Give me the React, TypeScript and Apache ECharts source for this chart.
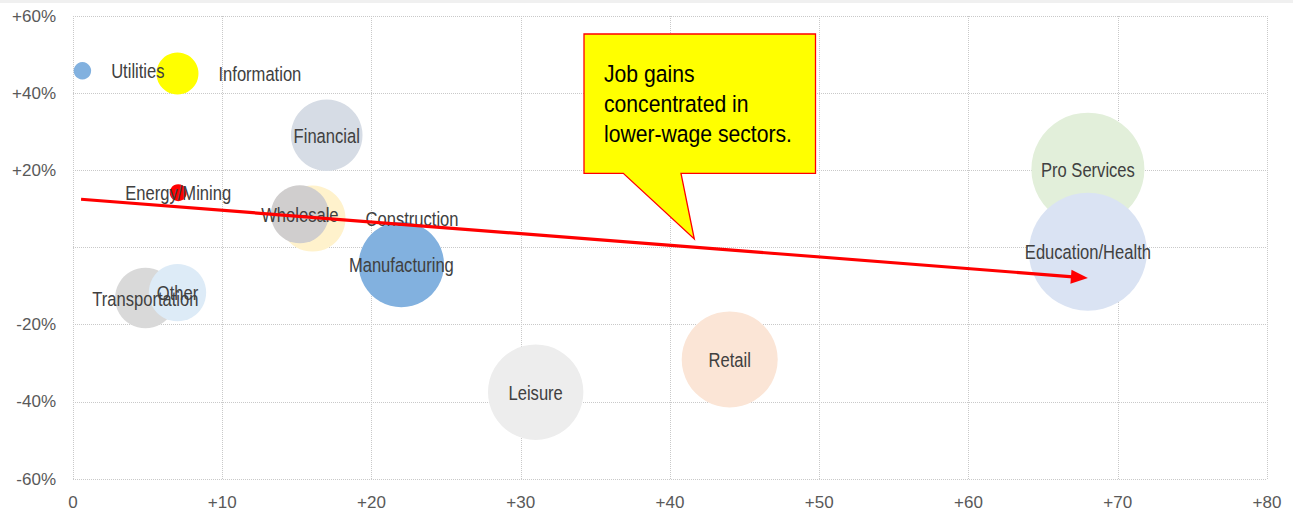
import React, { useEffect, useRef } from "react";
import * as echarts from "echarts";

// ---- data ----
const sectors = [
  "Utilities",
  "Information",
  "Financial",
  "Energy/Mining",
  "Construction",
  "Wholesale",
  "Manufacturing",
  "Transportation",
  "Other",
  "Leisure",
  "Retail",
  "Pro Services",
  "Education/Health",
];
const jobGains = [0.63, 7.0, 17.0, 7.05, 16.05, 15.2, 22.0, 4.85, 7.0, 31.0, 44.0, 68.0, 68.0];
const wageChange = [45.8, 45.1, 29.1, 14.2, 7.5, 8.6, -4.4, -13.1, -11.7, -37.5, -29.0, 20.3, -1.1];
const employment = [0.53, 3.06, 8.9, 0.5, 7.56, 5.84, 12.66, 6.38, 5.72, 15.8, 16.0, 22.17, 24.17];

const xTicks = [0, 10, 20, 30, 40, 50, 60, 70, 80];
const yTicks = [-60, -40, -20, 0, 20, 40, 60];

const trendStart = [0.54, 12.5];
const trendEnd = [68.0, -7.9];

const calloutLines = ["Job gains", "concentrated in", "lower-wage sectors."];

// ---- styles ----
const sectorColors: Record<string, string> = {
  Utilities: "#82B1DF",
  Information: "#FFFF00",
  Financial: "#D6DCE5",
  "Energy/Mining": "#FF0000",
  Construction: "#FFF2CC",
  Wholesale: "#D0CECE",
  Manufacturing: "#82B1DF",
  Transportation: "#D9D9D9",
  Other: "#DDEBF7",
  Leisure: "#EDEDED",
  Retail: "#FBE5D6",
  "Pro Services": "#E2EFDA",
  "Education/Health": "#DAE3F3",
};
const rightLabelled = new Set(["Utilities", "Information", "Construction"]);

const SANS = "'Liberation Sans', Arial, sans-serif";
const bubbleDiameter = (size: number) => 24 * Math.sqrt(size);

export default function App() {
  const ref = useRef<HTMLDivElement>(null);

  useEffect(() => {
    if (!ref.current) return;
    const chart = echarts.init(ref.current, undefined, { renderer: "svg" });

    const points = sectors.map((_n, i) => [jobGains[i], wageChange[i], employment[i]]);
    const bubbleData = sectors.map((name, i) => ({
      name,
      value: points[i],
      itemStyle: { color: sectorColors[name], opacity: 1 },
    }));

    const option: any = {
      animation: false,
      backgroundColor: "#ffffff",
      grid: { left: 73, right: 26, top: 16, bottom: 35, containLabel: false },
      xAxis: {
        type: "value",
        min: xTicks[0],
        max: xTicks[xTicks.length - 1],
        interval: 10,
        axisLine: { show: false },
        axisTick: { show: false },
        splitLine: { show: true, lineStyle: { type: "dotted", color: "#C9C9C9", width: 1 } },
        axisLabel: {
          formatter: (v: number) => (v === 0 ? "0" : "+" + v),
          color: "#595959",
          fontSize: 17,
          fontFamily: SANS,
          margin: 15,
        },
      },
      yAxis: {
        type: "value",
        min: yTicks[0],
        max: yTicks[yTicks.length - 1],
        interval: 20,
        axisLine: { show: false },
        axisTick: { show: false },
        splitLine: { show: true, lineStyle: { type: "dotted", color: "#C9C9C9", width: 1 } },
        axisLabel: {
          formatter: (v: number) => (v === 0 ? "" : (v > 0 ? "+" : "") + v + "%"),
          color: "#595959",
          fontSize: 17,
          fontFamily: SANS,
          margin: 17,
        },
      },
      series: [
        {
          type: "scatter",
          data: bubbleData,
          symbol: "circle",
          symbolSize: (val: number[]) => bubbleDiameter(val[2]),
          silent: true,
          label: { show: false },
          emphasis: { disabled: true },
          z: 2,
        },
        {
          type: "custom",
          silent: true,
          z: 5,
          encode: { x: 0, y: 1 },
          data: points,
          renderItem: (params: any, api: any) => {
            const name = sectors[params.dataIndex];
            const p = api.coord([api.value(0), api.value(1)]);
            const r = bubbleDiameter(api.value(2)) / 2;
            const right = rightLabelled.has(name);
            return {
              type: "text",
              x: right ? p[0] + r + 20 : p[0],
              y: p[1] + 1,
              scaleX: 0.85,
              style: {
                x: 0,
                y: 0,
                text: name,
                textAlign: right ? "left" : "center",
                textVerticalAlign: "middle",
                fill: "#404040",
                fontSize: 19.5,
                fontFamily: SANS,
              },
            };
          },
        },
        {
          type: "custom",
          silent: true,
          z: 10,
          encode: { x: [0, 2], y: [1, 3] },
          data: [[trendStart[0], trendStart[1], trendEnd[0], trendEnd[1]]],
          renderItem: (_params: any, api: any) => {
            const p1 = api.coord([api.value(0), api.value(1)]);
            const p2 = api.coord([api.value(2), api.value(3)]);
            const dx = p2[0] - p1[0];
            const dy = p2[1] - p1[1];
            const len = Math.hypot(dx, dy);
            const ux = dx / len;
            const uy = dy / len;
            const headLen = 17;
            const headW = 7;
            const bx = p2[0] - ux * headLen;
            const by = p2[1] - uy * headLen;
            return {
              type: "group",
              children: [
                {
                  type: "line",
                  shape: { x1: p1[0], y1: p1[1], x2: bx + ux * 2, y2: by + uy * 2 },
                  style: { stroke: "#FF0000", lineWidth: 3.2 },
                },
                {
                  type: "polygon",
                  shape: {
                    points: [
                      [p2[0], p2[1]],
                      [bx - uy * headW, by + ux * headW],
                      [bx + uy * headW, by - ux * headW],
                    ],
                  },
                  style: { fill: "#FF0000" },
                },
              ],
            };
          },
        },
      ],
      graphic: [
        {
          type: "rect",
          left: 0,
          top: 0,
          shape: { x: 0, y: 0, width: 1293, height: 3 },
          style: { fill: "#F0F0F0" },
          z: 0,
        },
        {
          type: "polygon",
          z: 20,
          shape: {
            points: [
              [584, 34],
              [815.5, 34],
              [815.5, 173.3],
              [681, 173.3],
              [694.3, 239],
              [623.3, 173.3],
              [584, 173.3],
            ],
          },
          style: { fill: "#FFFF00", stroke: "#FF0000", lineWidth: 1.3 },
        },
        {
          type: "text",
          z: 21,
          x: 604,
          y: 104,
          scaleX: 0.9,
          style: {
            x: 0,
            y: 0,
            text: calloutLines.join("\n"),
            fill: "#000000",
            fontSize: 23.5,
            fontFamily: SANS,
            lineHeight: 29.7,
            textAlign: "left",
            textVerticalAlign: "middle",
          },
        },
      ],
    };

    chart.setOption(option);
    return () => chart.dispose();
  }, []);

  return (
    <div
      ref={ref}
      style={{ position: "fixed", left: 0, top: 0, width: 1293, height: 514 }}
    />
  );
}
